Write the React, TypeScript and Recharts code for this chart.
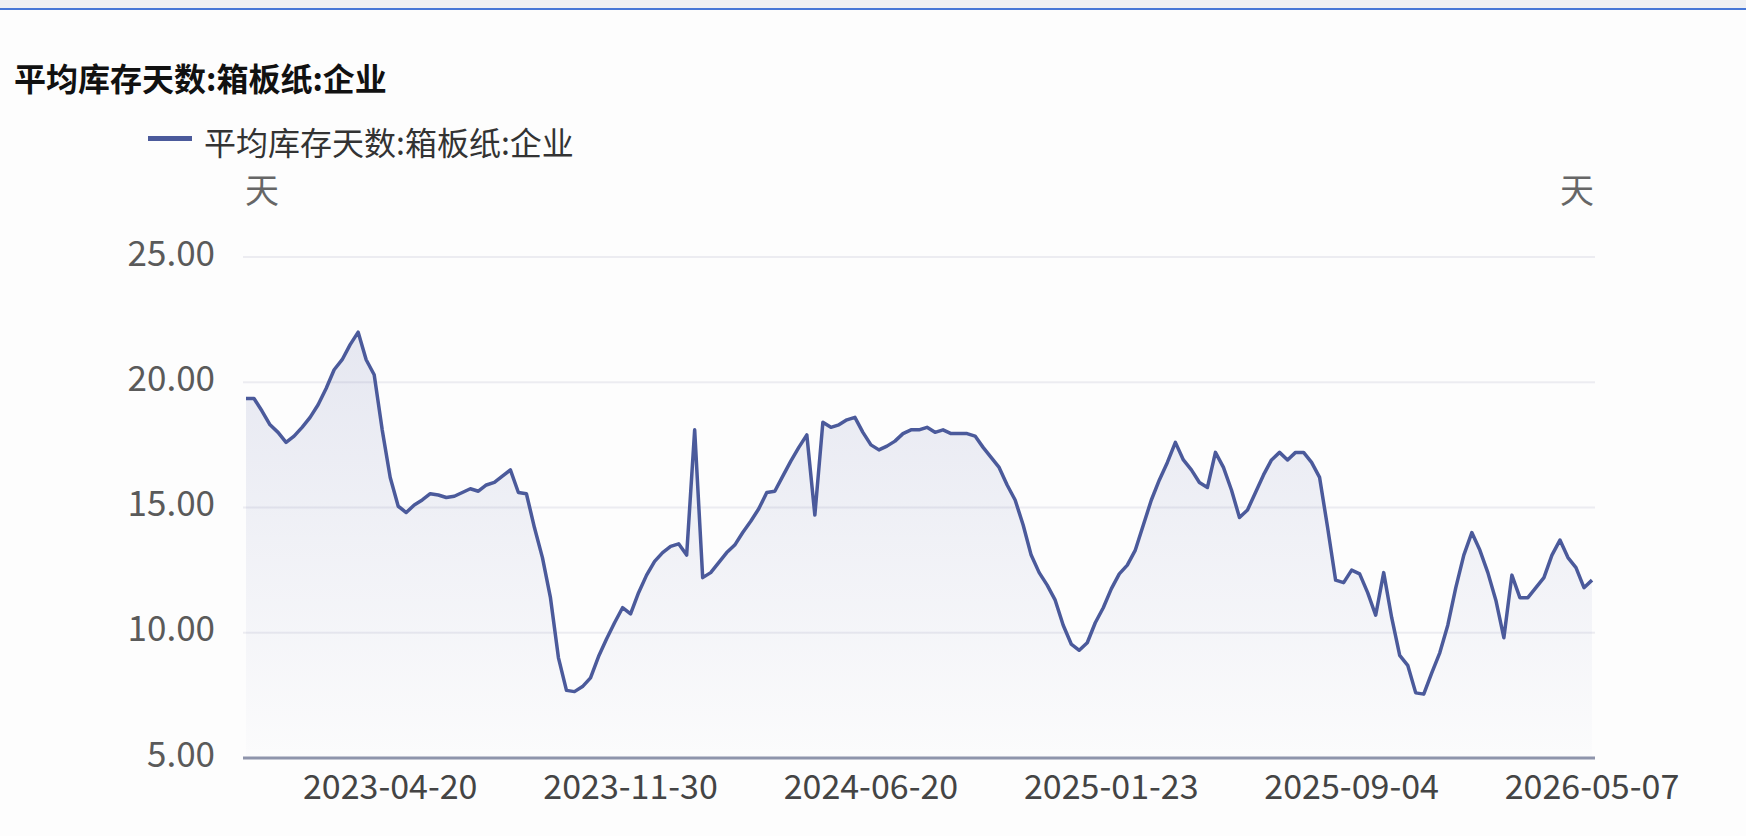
import { AreaChart, Area, XAxis, YAxis, CartesianGrid } from "recharts";

const SERIES_NAME = "平均库存天数:箱板纸:企业";
const UNIT = "天";

// weekly readings, oldest first
const VALUES = [
  19.35, 19.35, 18.85, 18.3, 18.0, 17.6, 17.85, 18.2, 18.6, 19.1,
  19.75, 20.5, 20.9, 21.5, 22.0, 20.9, 20.3, 18.1, 16.2, 15.05,
  14.8, 15.1, 15.3, 15.55, 15.5, 15.4, 15.45, 15.6, 15.75, 15.65,
  15.9, 16.0, 16.25, 16.5, 15.6, 15.55, 14.2, 13.0, 11.4, 9.0,
  7.7, 7.65, 7.85, 8.2, 9.05, 9.75, 10.4, 11.0, 10.75, 11.6,
  12.3, 12.85, 13.2, 13.45, 13.55, 13.1, 18.1, 12.2, 12.4, 12.8,
  13.2, 13.5, 14.0, 14.45, 14.95, 15.6, 15.65, 16.25, 16.85, 17.4,
  17.9, 14.7, 18.4, 18.2, 18.3, 18.5, 18.6, 18.0, 17.5, 17.3,
  17.45, 17.65, 17.95, 18.1, 18.1, 18.2, 18.0, 18.1, 17.95, 17.95,
  17.95, 17.85, 17.4, 17.0, 16.6, 15.9, 15.3, 14.3, 13.1, 12.4,
  11.9, 11.3, 10.3, 9.55, 9.3, 9.6, 10.4, 11.0, 11.75, 12.35,
  12.7, 13.3, 14.3, 15.3, 16.1, 16.8, 17.6, 16.9, 16.5, 16.0,
  15.8, 17.2, 16.6, 15.7, 14.6, 14.9, 15.6, 16.3, 16.9, 17.2,
  16.9, 17.2, 17.2, 16.8, 16.2, 14.2, 12.1, 12.0, 12.5, 12.35,
  11.6, 10.7, 12.4, 10.6, 9.1, 8.7, 7.6, 7.55, 8.4, 9.2,
  10.3, 11.8, 13.1, 14.0, 13.3, 12.4, 11.3, 9.8, 12.3, 11.4,
  11.4, 11.8, 12.2, 13.1, 13.7, 13.0, 12.6, 11.8, 12.1,
];

const TICK_INDEX = [18, 48, 78, 108, 138, 168];
const TICK_LABELS = ["2023-04-20", "2023-11-30", "2024-06-20", "2025-01-23", "2025-09-04", "2026-05-07"];
const Y_TICKS = [5, 10, 15, 20, 25];

const data = VALUES.map((v, i) => ({ idx: i, value: v }));

const FONT = '"Noto Sans CJK SC", "Noto Sans", sans-serif';
const LINE = "#4b5a9b";

function YTick(props: any) {
  const { x, y, payload, textAnchor } = props;
  return (
    <text
      x={x}
      y={y - 7}
      dominantBaseline="central"
      textAnchor={textAnchor}
      fill="#5a5a5a"
      fontSize={35}
      fontFamily={FONT}
    >
      {Number(payload.value).toFixed(2)}
    </text>
  );
}

export default function App() {
  return (
    <div
      style={{
        position: "absolute",
        left: 0,
        top: 0,
        width: 1746,
        height: 836,
        overflow: "hidden",
        background: "#fdfdfd",
        fontFamily: FONT,
      }}
    >
      <div style={{ position: "absolute", left: 0, top: 0, width: 1746, height: 8, background: "#eef0f3" }} />
      <div style={{ position: "absolute", left: 0, top: 8, width: 1746, height: 2, background: "#4677d6" }} />

      <div
        style={{
          position: "absolute",
          left: 14,
          top: 59,
          fontSize: 32,
          lineHeight: "36px",
          fontWeight: 700,
          color: "#111",
          whiteSpace: "nowrap",
        }}
      >
        {SERIES_NAME}
      </div>

      <div style={{ position: "absolute", left: 148, top: 136, width: 44, height: 5, background: LINE }} />
      <div
        style={{
          position: "absolute",
          left: 204,
          top: 122,
          fontSize: 32,
          lineHeight: "38px",
          color: "#333",
          whiteSpace: "nowrap",
        }}
      >
        {SERIES_NAME}
      </div>

      <div style={{ position: "absolute", left: 245, top: 170, fontSize: 34, lineHeight: "38px", color: "#666" }}>
        {UNIT}
      </div>
      <div style={{ position: "absolute", left: 1560, top: 170, fontSize: 34, lineHeight: "38px", color: "#666" }}>
        {UNIT}
      </div>

      <div style={{ position: "absolute", left: 0, top: 0 }}>
        <AreaChart width={1746} height={836} data={data} margin={{ top: 257, right: 0, bottom: 0, left: 0 }}>
          <defs>
            <linearGradient id="fillGrad" x1="0" y1="0" x2="0" y2="1">
              <stop offset="0%" stopColor="#5a66a8" stopOpacity={0.24} />
              <stop offset="100%" stopColor="#5a66a8" stopOpacity={0.02} />
            </linearGradient>
          </defs>
          <CartesianGrid yAxisId="left" vertical={false} stroke="#ececf1" strokeWidth={2} />
          <XAxis
            dataKey="idx"
            type="number"
            domain={[0, VALUES.length - 1]}
            ticks={TICK_INDEX}
            interval={0}
            padding={{ left: 3, right: 3 }}
            tickFormatter={(v: number) => TICK_LABELS[TICK_INDEX.indexOf(v)] ?? ""}
            height={78}
            tickLine={false}
            tickMargin={11}
            axisLine={{ stroke: "#8e94ab", strokeWidth: 3 }}
            tick={{ fill: "#444", fontSize: 34, fontFamily: FONT }}
          />
          <YAxis
            yAxisId="left"
            orientation="left"
            width={243}
            domain={[5, 25]}
            ticks={Y_TICKS}
            interval={0}
            axisLine={false}
            tickLine={false}
            tickMargin={22}
            tick={<YTick />}
          />
          <YAxis
            yAxisId="right"
            orientation="right"
            width={151}
            domain={[5, 25]}
            ticks={Y_TICKS}
            interval={0}
            axisLine={false}
            tickLine={false}
            tickMargin={11}
            tick={<YTick />}
          />
          <Area
            yAxisId="left"
            type="linear"
            dataKey="value"
            name={SERIES_NAME}
            stroke={LINE}
            strokeWidth={3.5}
            strokeLinejoin="round"
            fill="url(#fillGrad)"
            dot={false}
            activeDot={false}
            isAnimationActive={false}
          />
        </AreaChart>
      </div>
    </div>
  );
}
